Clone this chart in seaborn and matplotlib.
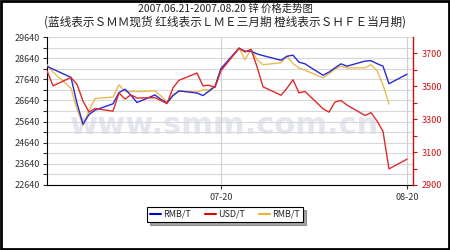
import numpy as np
import pandas as pd
import matplotlib
matplotlib.use("Agg")
import matplotlib.pyplot as plt
import matplotlib.dates as mdates
import seaborn as sns

# ---- data ----
trade_days = ["2007-06-21", "2007-06-22", "2007-06-25", "2007-06-26", "2007-06-27", "2007-06-28", "2007-06-29",
              "2007-07-02", "2007-07-03", "2007-07-04", "2007-07-05", "2007-07-06",
              "2007-07-09", "2007-07-10", "2007-07-11", "2007-07-12", "2007-07-13",
              "2007-07-16", "2007-07-17", "2007-07-18", "2007-07-19", "2007-07-20",
              "2007-07-23", "2007-07-24", "2007-07-25", "2007-07-26", "2007-07-27",
              "2007-07-30", "2007-07-31", "2007-08-01", "2007-08-02", "2007-08-03",
              "2007-08-06", "2007-08-07", "2007-08-08", "2007-08-09", "2007-08-10",
              "2007-08-13", "2007-08-14", "2007-08-15", "2007-08-16", "2007-08-17",
              "2007-08-20"]

smm_spot = [28250, 28120, 27730, 26500, 25520, 25970, 26180,
            26480, 27010, 27170, 26880, 26540,
            26900, 26690, 26520, 26870, 27090,
            26990, 26870, 27080, 27300, 28150,
            29110, 28970, 28970, 28840, 28760,
            28540, 28730, 28780, 28450, 28370,
            27830, 27980, 28180, 28370, 28260,
            28500, 28520, 28380, 28260, 27430,
            27880]

lme_3m = [3595, 3503, 3554, 3512, 3411, 3343, 3365,
          3349, 3460, 3423, 3448, 3429,
          3431, 3414, 3395, 3491, 3537,
          3581, 3503, 3507, 3493, 3595,
          3731, 3709, 3725, 3620, 3497,
          3446, 3489, 3540, 3460, 3469,
          3364, 3343, 3405, 3414, 3386,
          3323, 3340, 3290, 3226, 2998,
          3057]

shfe_cur = [28330, 27980, 27210, 26230, 25460, 26160, 26730,
            26800, 27380, 27060, 27060, 27060,
            27090, 26850, 26560, 26900, 27090,
            27040, 27140, 27140, 27300, 28100,
            29130, 28570, 29050, 28570, 28330,
            28420, 28720, 28380, 28170, 28070,
            27710, 27900, 28120, 28260, 28180,
            28180, 28330, 28050, 27380, 26470,
            np.nan]

legend_labels = ["RMB/T", "USD/T", "RMB/T"]
x_tick_dates = ["2007-07-20", "2007-08-20"]
x_tick_labels = ["07-20", "08-20"]
left_ticks = [22640, 23640, 24640, 25640, 26640, 27640, 28640, 29640]
right_ticks = [2900, 3100, 3300, 3500, 3700]
title1 = "2007.06.21-2007.08.20 锌 价格走势图"
title2 = "(蓝线表示ＳＭＭ现货 红线表示ＬＭＥ三月期 橙线表示ＳＨＦＥ当月期)"
watermark = "www.smm.com.cn"

# ---- style ----
sns.set_style("white")
plt.rcParams['font.family'] = ['Noto Sans CJK SC', 'DejaVu Sans']

df = pd.DataFrame({
    "date": pd.to_datetime(trade_days),
    "smm": smm_spot,
    "lme": lme_3m,
    "shfe": shfe_cur,
})

BLUE = "#2a2ad0"
RED = "#e02a2a"
GOLD = "#e8bc55"

fig = plt.figure(figsize=(4.5, 2.5), dpi=100)
fig.patch.set_facecolor("white")
ax = fig.add_axes([47/450, 1-185/250, 366/450, 148/250])
ax.set_facecolor("white")

ax.text(0.486, 0.40, watermark, transform=ax.transAxes, ha="center", va="center",
        fontsize=22, fontweight="bold", color="#e3e6ee", family="DejaVu Sans", zorder=0)

sns.lineplot(data=df, x="date", y="shfe", ax=ax, color=GOLD, lw=1.0, zorder=3)
sns.lineplot(data=df, x="date", y="smm", ax=ax, color=BLUE, lw=1.0, zorder=4)

ax2 = ax.twinx()
sns.lineplot(data=df, x="date", y="lme", ax=ax2, color=RED, lw=1.0, zorder=3)

x0 = pd.Timestamp("2007-06-21")
x1 = pd.Timestamp("2007-08-21")
ax.set_xlim(x0, x1)
ax.set_ylim(22640, 29640)
ax2.set_ylim(2900, 3800)

ax.set_xticks(pd.to_datetime(x_tick_dates))
ax.set_xticklabels(x_tick_labels)
ax.set_yticks(left_ticks)
ax.set_yticks(np.arange(22640 + 500, 29640, 1000), minor=True)
ax2.set_yticks(right_ticks)
ax2.set_yticks(np.arange(3000, 3800, 200), minor=True)

for yv in np.arange(22640, 29641, 500):
    ax.axhline(yv, color="#d8d8d8", lw=0.8, zorder=1)
for xd in pd.to_datetime(x_tick_dates):
    ax.axvline(xd, color="#cfcfcf", lw=0.8, zorder=1)

ax.set_xlabel("")
ax.set_ylabel("")
ax2.set_xlabel("")
ax2.set_ylabel("")

ax.tick_params(axis="y", which="both", direction="out", length=3, width=0.8, colors="#333333",
               labelsize=6.5, pad=2, left=True)
ax.tick_params(axis="x", direction="out", length=3, width=0.8, colors="#333333", labelsize=6.5, pad=3, bottom=True)
ax2.tick_params(axis="y", which="both", direction="out", length=3, width=0.8, colors="#cc1111",
                labelsize=6.5, pad=3, right=True)

for a in (ax, ax2):
    a.spines["top"].set_visible(False)
ax.spines["left"].set_color("black")
ax.spines["bottom"].set_color("black")
ax.spines["right"].set_visible(False)
ax2.spines["left"].set_visible(False)
ax2.spines["bottom"].set_visible(False)
ax2.spines["right"].set_color("#cc1111")
ax2.spines["right"].set_linewidth(1.0)

fig.text(0.5, 1-9/250, title1, ha="center", va="center", fontsize=7.5, color="#222222")
fig.text(0.5, 1-22.5/250, title2, ha="center", va="center", fontsize=8.4, color="#222222")

from matplotlib.lines import Line2D
handles = [Line2D([], [], color="#0000cc", lw=1.5),
           Line2D([], [], color="#dd0000", lw=1.5),
           Line2D([], [], color="#e8b830", lw=1.5)]
leg = fig.legend(handles, legend_labels, loc="center", bbox_to_anchor=(0.5, 1-214.5/250), ncol=3,
                 fontsize=6.5, frameon=True, fancybox=False, shadow=True, handlelength=1.2,
                 handletextpad=0.3, columnspacing=1.5, borderpad=0.35)
leg.get_frame().set_edgecolor("black")
leg.get_frame().set_linewidth(0.8)

# outer border
fig.add_artist(plt.Rectangle((0.002, 0.004), 0.996, 0.992, transform=fig.transFigure,
                             fill=False, edgecolor="black", lw=2.0))

fig.savefig("out.png", dpi=100)
